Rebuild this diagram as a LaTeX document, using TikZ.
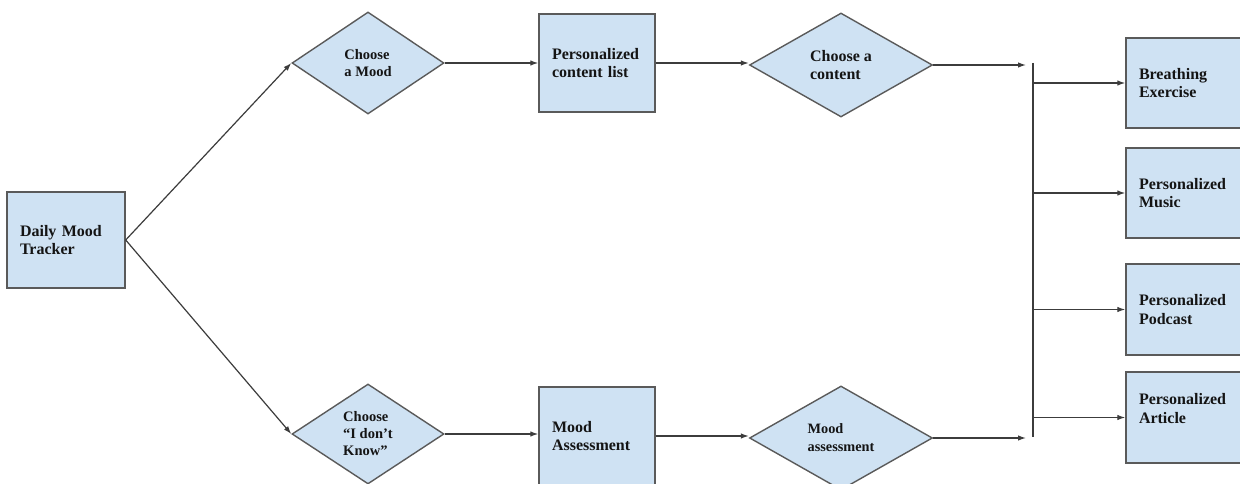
\documentclass[tikz,border=0pt]{standalone}
\usepackage{fontspec}
\setmainfont{Liberation Serif}
\usetikzlibrary{shapes.geometric,arrows.meta}
\definecolor{boxfill}{HTML}{CFE2F3}
\definecolor{boxline}{HTML}{5A5A5A}
\definecolor{arrowline}{HTML}{3C3C3C}
\definecolor{txt}{HTML}{141414}
\begin{document}
\begin{tikzpicture}[x=1pt,y=-1pt,
  box/.style={draw=boxline, fill=boxfill, line width=1.4pt, rectangle, align=left,
    inner xsep=13pt, inner ysep=0pt, text width=90pt, text=txt,
    font=\bfseries\fontsize{16}{18.5}\selectfont},
  dia/.style={draw=boxline, fill=boxfill, line width=1.4pt, diamond, align=left,
    inner sep=0pt, text=txt, font=\bfseries\fontsize{14.5}{17.5}\selectfont},
  conn/.style={draw=arrowline, line width=1.2pt},
  arr/.style={conn, -{Latex[length=8pt,width=5.5pt]}}]
\clip (0,0) rectangle (1240,484);
\fill[white] (0,0) rectangle (1240,484);
% left
\node[box, minimum height=96pt, text width=92pt] (dmt) at (66,240) {Daily Mood\\Tracker};
% top row
\node[dia, minimum width=152pt, minimum height=102pt] (cam) at (368,63) {Choose\\a Mood};
\node[box, minimum height=98pt] (pcl) at (597,63) {Personalized\\content list};
\node[dia, minimum width=183pt, minimum height=104pt,
  font=\bfseries\fontsize{16}{18.5}\selectfont] (cac) at (841,65) {Choose a\\content};
% bottom row
\node[dia, minimum width=152pt, minimum height=100pt,
  font=\bfseries\fontsize{14.5}{17}\selectfont] (cdk) at (368,434) {Choose\\“I don’t\\Know”};
\node[box, minimum height=98pt] (mab) at (597,436) {Mood\\Assessment};
\node[dia, minimum width=183pt, minimum height=104pt,
  font=\bfseries\fontsize{14.3}{18}\selectfont] (mad) at (841,438) {Mood\\assessment};
% right column
\node[box, minimum height=90pt] (bre) at (1184,83) {Breathing\\Exercise};
\node[box, minimum height=90pt] (mus) at (1184,193) {Personalized\\Music};
\node[box, minimum height=91pt] (pod) at (1184,309.5) {Personalized\\Podcast};
\node[box, minimum height=91pt] (art) at (1184,417.5) {Personalized\\Article\\\mbox{}};
% bar
\coordinate (bt) at (1033,63);
\coordinate (bb) at (1033,437);
\coordinate (in1) at (1026,66);
\coordinate (in2) at (1026,440);
\draw[conn] (bt) -- (bb);
% connectors
\draw[arr] (dmt.east) -- (cam.west);
\draw[arr] (dmt.east) -- (cdk.west);
\draw[arr] (cam.east) -- (cam.east -| pcl.west);
\draw[arr] (pcl.east) -- (pcl.east -| cac.west);
\draw[arr] (cac.east) -- (cac.east -| in1);
\draw[arr] (cdk.east) -- (cdk.east -| mab.west);
\draw[arr] (mab.east) -- (mab.east -| mad.west);
\draw[arr] (mad.east) -- (mad.east -| in2);
\draw[arr] (bt |- bre.west) -- (bre.west);
\draw[arr] (bt |- mus.west) -- (mus.west);
\draw[arr] (bt |- pod.west) -- (pod.west);
\draw[arr] (bt |- art.west) -- (art.west);
\end{tikzpicture}
\end{document}
